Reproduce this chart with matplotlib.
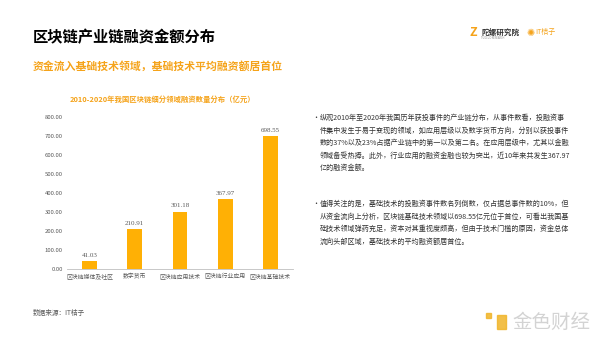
import matplotlib.pyplot as plt
from matplotlib.patches import Rectangle

plt.rcParams['font.family'] = ['Noto Sans CJK SC', 'DejaVu Sans']

# 数据
categories = ['区块链媒体及社区', '数字货币', '区块链应用技术', '区块链行业应用', '区块链基础技术']
values = [41.03, 210.91, 301.18, 367.97, 698.55]
yticks = [0, 100, 200, 300, 400, 500, 600, 700, 800]

title = '区块链产业链融资金额分布'
subtitle = '资金流入基础技术领域，基础技术平均融资额居首位'
chart_title = '2010-2020年我国区块链细分领域融资数量分布（亿元）'
para1 = ['纵观2010年至2020年我国历年获投事件的产业链分布，从事件数看，投融资事',
         '件集中发生于易于变现的领域，如应用层级以及数字货币方向，分别以获投事件',
         '数的37%以及23%占据产业链中的第一以及第二名。在应用层级中，尤其以金融',
         '领域备受热捧。此外，行业应用的融资金融也较为突出，近10年来共发生367.97',
         '亿的融资金额。']
para2 = ['值得关注的是，基础技术的投融资事件数名列倒数，仅占据总事件数的10%，但',
         '从资金流向上分析，区块链基础技术领域以698.55亿元位于首位，可看出我国基',
         '础技术领域弹药充足，资本对其重视度颇高，但由于技术门槛的原因，资金总体',
         '流向头部区域，基础技术的平均融资额居首位。']

ORANGE = '#F5A31A'
BAR = '#FFB005'
GRAY = '#595959'

W, H = 600, 338
fig = plt.figure(figsize=(6, 3.38), dpi=100)
fig.patch.set_facecolor('white')


def px(x, y):
    return x / W, 1 - y / H


# 标题
fig.text(*px(33, 37), title, fontsize=11, fontweight='bold', color='black', va='center')
fig.text(*px(33, 66), subtitle, fontsize=7.8, fontweight='bold', color=ORANGE, va='center')

# logo
fig.text(*px(470, 33), 'Z', fontsize=9, fontweight='bold', color=ORANGE, va='center')
fig.text(*px(481, 32), '陀螺研究院', fontsize=5.5, fontweight='bold', color='#333333', va='center')
fig.text(*px(481, 38), 'TUOLUO RESEARCH', fontsize=1.8, color='#888888', va='center')
fig.text(*px(526, 33), '✺', fontsize=7, color=ORANGE, va='center', family=['DejaVu Sans'])
fig.text(*px(535, 32), 'IT桔子', fontsize=5, color=ORANGE, va='center')

# 图表
ax = fig.add_axes([67 / W, 1 - 269 / H, 226 / W, 152 / H])
x = list(range(len(categories)))
ax.bar(x, values, width=0.33, color=BAR)
for xi, v in zip(x, values):
    ax.text(xi, v + 18, f'{v:.2f}', ha='center', va='bottom', fontsize=5,
            color=GRAY, family=['Liberation Serif'])
ax.set_xlim(-0.5, len(categories) - 0.5)
ax.set_ylim(0, 800)
ax.set_yticks(yticks)
ax.set_yticklabels([f'{t:.2f}' for t in yticks], fontsize=4.3, color=GRAY)
ax.set_xticks(x)
ax.set_xticklabels(categories, fontsize=4.2, color=GRAY)
ax.tick_params(length=0, pad=3)
for s in ['top', 'right', 'left']:
    ax.spines[s].set_visible(False)
ax.spines['bottom'].set_color('#BFBFBF')
ax.spines['bottom'].set_linewidth(0.6)
fig.text(*px(162, 99), chart_title, fontsize=5.3, fontweight='bold', color=ORANGE,
         ha='center', va='center')

# 右侧文字
for paragraph, y0 in [(para1, 118), (para2, 204)]:
    fig.text(*px(312, y0), '•', fontsize=5, color='#333333', va='center')
    for i, line in enumerate(paragraph):
        fig.text(*px(320, y0 + i * 12.5), line, fontsize=5.1, color='#333333', va='center')

# 数据来源
fig.text(*px(33, 313), '数据来源：IT桔子', fontsize=4.8, color=GRAY, va='center')

# 水印
fig.patches.append(Rectangle(px(497, 329), 9 / W, 14 / H, transform=fig.transFigure,
                             color='#F0B428', alpha=0.85))
fig.patches.append(Rectangle(px(486, 318), 5 / W, 5 / H, transform=fig.transFigure,
                             color='#F0B428', alpha=0.85))
fig.text(*px(512, 322), '金色财经', fontsize=14, color='#C8C8C8', va='center', alpha=0.8)

fig.savefig('out.png', dpi=100)
